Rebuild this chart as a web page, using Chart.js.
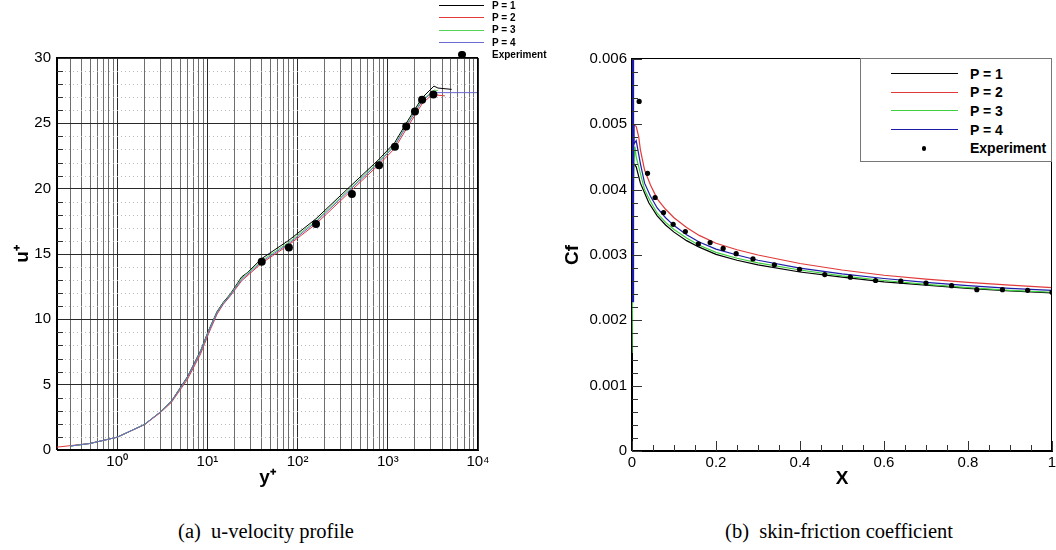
<!DOCTYPE html>
<html><head><meta charset="utf-8">
<script src="https://cdn.jsdelivr.net/npm/chart.js@4.4.1/dist/chart.umd.min.js"></script>
<style>
html,body{margin:0;padding:0;background:#fff;}
#wrap{position:relative;width:1056px;height:550px;overflow:hidden;font-family:"Liberation Sans",Arial,sans-serif;}
canvas{position:absolute;top:0;}
#cA{left:0;} #cB{left:528px;}
.cap{position:absolute;top:531px;font-family:"Liberation Serif","Times New Roman",serif;font-size:20.5px;line-height:1;white-space:nowrap;transform:translate(-50%,-50%);color:#000;}
.lgtxt{position:absolute;font-weight:bold;color:#000;white-space:nowrap;line-height:1;transform:translateY(-50%);}
.lgline{position:absolute;height:0;}
.lgdot{position:absolute;border-radius:50%;background:#000;}
#boxB{position:absolute;left:860px;top:58px;width:192px;height:104px;border:1px solid #777;box-sizing:border-box;background:#fff;}
</style>
</head><body>
<div id="wrap">
<canvas id="cA" width="528" height="500"></canvas>
<canvas id="cB" width="528" height="500"></canvas>
<div id="boxB"></div>
<div class="cap" style="left:266px">(a)&nbsp; u-velocity profile</div>
<div class="cap" style="left:839px">(b)&nbsp; skin-friction coefficient</div>
</div>
<script>
// ---------------- DATA ----------------
const seriesNames = ['P = 1', 'P = 2', 'P = 3', 'P = 4'];
const expName = 'Experiment';

// (a) u-velocity profile : y+ (log) vs u+
const a_p1_y = [0.3, 0.5, 1, 2, 3, 4, 6, 8.4, 10.3, 12.8, 15, 18, 24, 27.5, 40, 80, 160, 400, 800, 1200, 1600, 2400, 3250, 3600, 5100];
const a_p1_u = [0.3, 0.5, 0.98, 1.95, 2.9, 3.75, 5.6, 7.6, 9.15, 10.6, 11.3, 11.95, 13.25, 13.55, 14.65, 16.05, 17.7, 20.3, 22.25, 23.55, 25.0, 26.95, 27.85, 27.7, 27.6];
const a_p2_y = [0.215, 0.5, 1, 2, 3, 4, 6, 8.4, 10.3, 12.8, 15, 18, 24, 40, 80, 160, 400, 800, 1200, 1600, 2400, 3100, 4300];
const a_p2_u = [0.22, 0.5, 0.98, 1.93, 2.85, 3.65, 5.4, 7.35, 8.9, 10.4, 11.15, 11.8, 12.95, 14.3, 15.7, 17.3, 19.9, 21.85, 23.1, 24.55, 26.5, 27.2, 27.1];
const a_p3_y = [0.3, 0.5, 1, 2, 3, 4, 6, 8.4, 10.3, 12.8, 15, 18, 24, 40, 80, 160, 400, 800, 1200, 1600, 2400, 3300, 3600];
const a_p3_u = [0.3, 0.5, 0.98, 1.95, 2.9, 3.72, 5.55, 7.55, 9.1, 10.55, 11.25, 11.9, 13.15, 14.5, 15.9, 17.55, 20.15, 22.1, 23.4, 24.85, 26.8, 27.55, 27.5];
const a_p4_y = [0.3, 0.5, 1, 2, 3, 4, 6, 8.4, 10.3, 12.8, 15, 18, 24, 40, 80, 160, 400, 800, 1200, 1600, 2400, 3100, 10000];
const a_p4_u = [0.3, 0.5, 0.98, 1.95, 2.9, 3.72, 5.55, 7.5, 9.05, 10.5, 11.2, 11.85, 13.05, 14.4, 15.8, 17.45, 20.05, 22.0, 23.3, 24.75, 26.7, 27.35, 27.35];
const a_exp_y = [40, 80, 160, 400, 800, 1200, 1600, 2000, 2400, 3200];
const a_exp_u = [14.4, 15.5, 17.3, 19.6, 21.8, 23.2, 24.75, 25.9, 26.8, 27.2];
const a_xDecades = [1, 10, 100, 1000, 10000];
const a_xDecadeLabels = ['10\u2070', '10\u00b9', '10\u00b2', '10\u00b3', '10\u2074'];
const a_xMin = 0.215, a_xMax = 10000;
const a_yMin = 0, a_yMax = 30, a_yLabelStep = 5;

// (b) skin-friction coefficient : X vs Cf
const b_p1_x = [0, 0.004, 0.01, 0.02, 0.03, 0.04, 0.06, 0.08, 0.1, 0.13, 0.16, 0.2, 0.25, 0.3, 0.4, 0.5, 0.6, 0.7, 0.8, 0.9, 1.0];
const b_p1_c = [0.0025, 0.0044, 0.00435, 0.0041, 0.00395, 0.0038, 0.0036, 0.00346, 0.00335, 0.00322, 0.00312, 0.00301, 0.00292, 0.00285, 0.00274, 0.00266, 0.00259, 0.00254, 0.00249, 0.00245, 0.00242];
const b_p2_x = [0, 0.002, 0.01, 0.016, 0.02, 0.03, 0.044, 0.06, 0.08, 0.1, 0.13, 0.16, 0.2, 0.25, 0.3, 0.4, 0.5, 0.6, 0.7, 0.8, 0.9, 1.0];
const b_p2_c = [0.0028, 0.0050, 0.00497, 0.00481, 0.00461, 0.0043, 0.00407, 0.00386, 0.0037, 0.00357, 0.00342, 0.0033, 0.00318, 0.00308, 0.003, 0.00287, 0.00277, 0.00269, 0.00263, 0.00258, 0.00254, 0.0025];
const b_p3_x = [0, 0.004, 0.007, 0.01, 0.02, 0.03, 0.044, 0.06, 0.08, 0.1, 0.13, 0.16, 0.2, 0.25, 0.3, 0.4, 0.5, 0.6, 0.7, 0.8, 0.9, 1.0];
const b_p3_c = [0.0015, 0.0043, 0.00466, 0.0045, 0.00425, 0.004, 0.00382, 0.00364, 0.0035, 0.00339, 0.00326, 0.00315, 0.00304, 0.00295, 0.00288, 0.00277, 0.00268, 0.00261, 0.00255, 0.0025, 0.00246, 0.00243];
const b_p4_x = [0, 0.001, 0.002, 0.003, 0.005, 0.01, 0.02, 0.03, 0.044, 0.06, 0.08, 0.1, 0.13, 0.16, 0.2, 0.25, 0.3, 0.4, 0.5, 0.6, 0.7, 0.8, 0.9, 1.0];
const b_p4_c = [0.0023, 0.0063, 0.0045, 0.0050, 0.0047, 0.00475, 0.0044, 0.0041, 0.0039, 0.00372, 0.00357, 0.00345, 0.00331, 0.0032, 0.00309, 0.003, 0.00292, 0.0028, 0.00271, 0.00264, 0.00258, 0.00253, 0.00249, 0.00246];
const b_exp_x = [0.017, 0.037, 0.055, 0.075, 0.098, 0.127, 0.158, 0.186, 0.217, 0.248, 0.288, 0.339, 0.399, 0.459, 0.52, 0.58, 0.64, 0.70, 0.761, 0.821, 0.882, 0.942, 1.0];
const b_exp_c = [0.00535, 0.00425, 0.00388, 0.00365, 0.00347, 0.00336, 0.00317, 0.00319, 0.0031, 0.00302, 0.00294, 0.00285, 0.00278, 0.0027, 0.00266, 0.00261, 0.0026, 0.00257, 0.00253, 0.00247, 0.00247, 0.00246, 0.00243];
const b_xMin = 0, b_xMax = 1, b_xMinorStep = 0.05, b_xMajorStep = 0.2;
const b_yMin = 0, b_yMax = 0.006, b_yMinorStep = 0.0002, b_yMajorStep = 0.001;

// ---------------- STYLE ----------------
const colorsA = ['#000000', '#e03a3a', '#55d455', '#6a6ad0'];
const colorsB = ['#000000', '#e03a3a', '#3fcf3f', '#1c1ca8'];
Chart.defaults.font.family = '"Liberation Sans", Arial, sans-serif';
Chart.defaults.color = '#000';
Chart.defaults.animation = false;

function pts(xs, ys) { return xs.map((v, i) => ({x: v, y: ys[i]})); }
function near(a, b) { return Math.abs(a - b) < 1e-9 * Math.max(1, Math.abs(b)); }
function isDecade(v) { const l = Math.log10(v); return Math.abs(l - Math.round(l)) < 1e-9; }
function crisp(v) { return Math.round(v) + 0.5; }

// ---------- chart A ----------
const pluginA = {
  id: 'pluginA',
  beforeDatasetsDraw(chart) {
    const {ctx, chartArea: a, scales: {y}} = chart;
    ctx.save();
    ctx.strokeStyle = '#b8b8b8'; ctx.lineWidth = 1; ctx.setLineDash([1, 3]);
    for (const t of y.ticks) {
      if (t.value % a_yLabelStep !== 0) {
        const py = crisp(y.getPixelForValue(t.value));
        ctx.beginPath(); ctx.moveTo(a.left, py); ctx.lineTo(a.right, py); ctx.stroke();
      }
    }
    ctx.setLineDash([]);
    ctx.strokeStyle = '#333';
    for (const t of y.ticks) {
      if (t.value % a_yLabelStep !== 0) {
        const py = crisp(y.getPixelForValue(t.value));
        ctx.beginPath(); ctx.moveTo(a.left, py); ctx.lineTo(a.left + 6, py); ctx.stroke();
      }
    }
    ctx.restore();
  },
  afterDatasetsDraw(chart) {
    const {ctx, chartArea: a} = chart;
    ctx.save();
    ctx.strokeStyle = '#000'; ctx.lineWidth = 1;
    ctx.strokeRect(crisp(a.left) - 1, crisp(a.top) - 1, Math.round(a.right - a.left), Math.round(a.bottom - a.top));
    ctx.restore();
  }
};

const dsA = [a_p1_y, a_p2_y, a_p3_y, a_p4_y].map((xs, i) => ({
  label: seriesNames[i],
  data: pts(xs, [a_p1_u, a_p2_u, a_p3_u, a_p4_u][i]),
  showLine: true, pointRadius: 0, borderColor: colorsA[i], borderWidth: 1,
  order: [4, 3, 2, 1][i]
}));
dsA.push({label: expName, data: pts(a_exp_y, a_exp_u), showLine: false, pointRadius: 4,
  backgroundColor: '#000', borderColor: '#000', borderWidth: 0, order: 0});

new Chart(document.getElementById('cA'), {
  type: 'scatter',
  data: {datasets: dsA},
  options: {
    responsive: false, animation: false,
    layout: {padding: {left: 0, top: 58, right: 50, bottom: 0}},
    plugins: {legend: {display: false}, tooltip: {enabled: false}},
    scales: {
      x: {
        type: 'logarithmic', min: a_xMin, max: a_xMax,
        afterBuildTicks(s) {
          const t = [];
          for (let e = -1; e <= 3; e++) for (let m = 1; m <= 9; m++) {
            const v = +(m * Math.pow(10, e)).toPrecision(6);
            if (v >= a_xMin && v <= a_xMax) t.push({value: v});
          }
          t.push({value: a_xMax});
          s.ticks = t;
        },
        afterFit(s) { s.height = 50; s.paddingLeft = 0; s.paddingRight = 0; },
        ticks: {
          autoSkip: false, maxRotation: 0, minRotation: 0, padding: 3,
          font: {size: 15},
          callback(v) { const i = a_xDecades.findIndex(d => near(d, v)); return i >= 0 ? a_xDecadeLabels[i] : ''; }
        },
        grid: {drawTicks: false, lineWidth: 1,
          color: c => (c.tick && isDecade(c.tick.value)) ? '#2a2a2a' : '#6e6e6e'},
        border: {display: true, color: '#000', width: 1},
        title: {display: true, text: 'y\u207a', font: {size: 19, weight: 'bold'}, padding: {top: 0, bottom: 11}}
      },
      y: {
        type: 'linear', min: a_yMin, max: a_yMax,
        afterBuildTicks(s) { const t = []; for (let v = a_yMin; v <= a_yMax; v++) t.push({value: v}); s.ticks = t; },
        afterFit(s) { s.width = 57; s.paddingTop = 0; s.paddingBottom = 0; },
        ticks: {autoSkip: false, padding: 6, font: {size: 15},
          callback(v) { return v % a_yLabelStep === 0 ? String(v) : ''; }},
        grid: {drawTicks: false, lineWidth: 1,
          color: c => (c.tick && c.tick.value % a_yLabelStep === 0) ? '#2a2a2a' : 'rgba(0,0,0,0)'},
        border: {display: true, color: '#000', width: 1},
        title: {display: true, text: 'u\u207a', font: {size: 19, weight: 'bold'}, padding: {top: 11, bottom: 0}}
      }
    }
  },
  plugins: [pluginA]
});

// ---------- chart B ----------
const pluginB = {
  id: 'pluginB',
  afterDatasetsDraw(chart) {
    const {ctx, chartArea: a, scales: {x, y}} = chart;
    ctx.save();
    ctx.strokeStyle = '#000'; ctx.lineWidth = 1;
    ctx.strokeRect(crisp(a.left) - 1, crisp(a.top) - 1, Math.round(a.right - a.left), Math.round(a.bottom - a.top));
    ctx.strokeStyle = '#333';
    for (const t of x.ticks) {
      const px = crisp(x.getPixelForValue(t.value));
      const major = near(Math.round(t.value / b_xMajorStep) * b_xMajorStep, t.value);
      const len = major ? 10 : 6;
      ctx.beginPath(); ctx.moveTo(px, a.bottom); ctx.lineTo(px, a.bottom - len); ctx.stroke();
    }
    for (const t of y.ticks) {
      const py = crisp(y.getPixelForValue(t.value));
      const major = near(Math.round(t.value / b_yMajorStep) * b_yMajorStep, t.value);
      const len = major ? 10 : 6;
      ctx.beginPath(); ctx.moveTo(a.left, py); ctx.lineTo(a.left + len, py); ctx.stroke();
    }
    ctx.restore();
  }
};

const dsB = [b_p1_x, b_p2_x, b_p3_x, b_p4_x].map((xs, i) => ({
  label: seriesNames[i],
  data: pts(xs, [b_p1_c, b_p2_c, b_p3_c, b_p4_c][i]),
  showLine: true, pointRadius: 0, borderColor: colorsB[i], borderWidth: 1.2,
  segment: i === 3 ? {borderWidth: c => (c.p0DataIndex < 3 ? 3 : 1.2)} : undefined,
  order: [4, 3, 2, 1][i]
}));
dsB.push({label: expName, data: pts(b_exp_x, b_exp_c), showLine: false, pointRadius: 2.6,
  backgroundColor: '#000', borderColor: '#000', borderWidth: 0, order: 0});

new Chart(document.getElementById('cB'), {
  type: 'scatter',
  data: {datasets: dsB},
  options: {
    responsive: false, animation: false,
    layout: {padding: {left: 0, top: 59, right: 4, bottom: 0}},
    plugins: {legend: {display: false}, tooltip: {enabled: false}},
    scales: {
      x: {
        type: 'linear', min: b_xMin, max: b_xMax,
        afterBuildTicks(s) {
          const t = []; const n = Math.round((b_xMax - b_xMin) / b_xMinorStep);
          for (let i = 0; i <= n; i++) t.push({value: +(b_xMin + i * b_xMinorStep).toFixed(4)});
          s.ticks = t;
        },
        afterFit(s) { s.height = 49; s.paddingLeft = 0; s.paddingRight = 0; },
        ticks: {autoSkip: false, maxRotation: 0, minRotation: 0, padding: 3, font: {size: 15},
          callback(v) { return near(Math.round(v / b_xMajorStep) * b_xMajorStep, v) ? String(+v.toFixed(1)) : ''; }},
        grid: {display: false, drawTicks: false},
        border: {display: true, color: '#000', width: 1},
        title: {display: true, text: 'X', font: {size: 19, weight: 'bold'}, padding: {top: 0, bottom: 10}}
      },
      y: {
        type: 'linear', min: b_yMin, max: b_yMax,
        afterBuildTicks(s) {
          const t = []; const n = Math.round((b_yMax - b_yMin) / b_yMinorStep);
          for (let i = 0; i <= n; i++) t.push({value: +(b_yMin + i * b_yMinorStep).toFixed(5)});
          s.ticks = t;
        },
        afterFit(s) { s.width = 104; s.paddingTop = 0; s.paddingBottom = 0; },
        ticks: {autoSkip: false, padding: 5, font: {size: 15},
          callback(v) { return near(Math.round(v / b_yMajorStep) * b_yMajorStep, v) ? (v === 0 ? '0' : v.toFixed(3)) : ''; }},
        grid: {display: false, drawTicks: false},
        border: {display: true, color: '#000', width: 1},
        title: {display: true, text: 'Cf', font: {size: 19, weight: 'bold'}, padding: {top: 33, bottom: 0}}
      }
    }
  },
  plugins: [pluginB]
});

// ---------- legends (HTML) ----------
const wrap = document.getElementById('wrap');
function addLegend(cfg, colors) {
  const names = seriesNames.concat([expName]);
  names.forEach((name, i) => {
    const cy = cfg.y0 + i * cfg.dy;
    if (i < seriesNames.length) {
      const l = document.createElement('div');
      l.className = 'lgline';
      l.style.cssText = `left:${cfg.lx0}px;top:${cy - cfg.lw / 2}px;width:${cfg.lx1 - cfg.lx0}px;border-top:${cfg.lw}px solid ${colors[i]};`;
      wrap.appendChild(l);
    } else {
      const d = document.createElement('div');
      d.className = 'lgdot';
      d.style.cssText = `left:${cfg.dotX - cfg.r}px;top:${cy - cfg.r}px;width:${2 * cfg.r}px;height:${2 * cfg.r}px;`;
      wrap.appendChild(d);
    }
    const t = document.createElement('div');
    t.className = 'lgtxt';
    t.textContent = name;
    t.style.cssText = `left:${cfg.tx}px;top:${cy}px;font-size:${cfg.fs}px;`;
    wrap.appendChild(t);
  });
}
addLegend({y0: 6, dy: 12.2, lx0: 439, lx1: 484, lw: 1.5, tx: 492, fs: 10, dotX: 462, r: 3.6}, colorsA);
addLegend({y0: 73.5, dy: 18.7, lx0: 891, lx1: 958, lw: 1.3, tx: 970, fs: 14, dotX: 924, r: 2.4}, colorsB);
</script>
</body></html>
